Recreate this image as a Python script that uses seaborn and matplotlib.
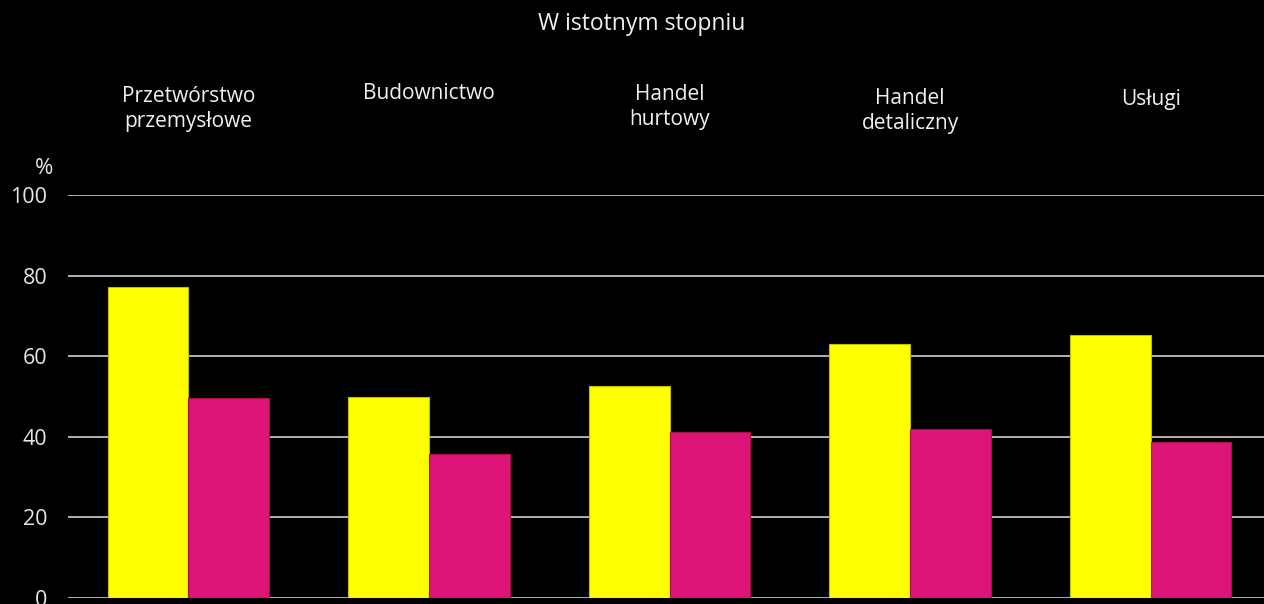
import pandas as pd
import matplotlib.pyplot as plt
import matplotlib.transforms as mtransforms
import seaborn as sns

# dane (%)
sektory = ["Przetwórstwo\nprzemysłowe", "Budownictwo", "Handel\nhurtowy", "Handel\ndetaliczny", "Usługi"]
seria_1 = [77.1, 49.8, 52.6, 63.1, 65.3]
seria_2 = [49.7, 35.7, 41.1, 41.9, 38.6]
serie = ["seria 1", "seria 2"]
tytul = "W istotnym stopniu"
y_ticks = [0, 20, 40, 60, 80, 100]

# wysokości etykiet sektorów (piksele od góry) – w oryginale nie są wyrównane
label_y_px = [109, 93, 107, 111, 100]

df = pd.DataFrame({
    "sektor": sektory * 2,
    "wartosc": seria_1 + seria_2,
    "seria": [serie[0]] * len(sektory) + [serie[1]] * len(sektory),
})

sns.set_theme(style="dark")
plt.rcParams['font.family'] = ['Open Sans', 'DejaVu Sans']

W, H = 1264, 604
fig = plt.figure(figsize=(W / 100, H / 100), dpi=100, facecolor="black")
ax = fig.add_axes([68 / W, (H - 598) / H, 1203 / W, (598 - 195) / H])
ax.set_facecolor("black")

sns.barplot(data=df, x="sektor", y="wartosc", hue="seria",
            palette=["#FFFF00", "#DE1479"], width=0.67, gap=0,
            legend=False, saturation=1, ax=ax)

# delikatne obramowanie słupków jak w oryginale
for p in ax.patches:
    fc = p.get_facecolor()
    p.set_edgecolor((fc[0] * 0.75, fc[1] * 0.75, fc[2] * 0.6, 1))
    p.set_linewidth(0.8)

ax.set_ylim(0, 100)
ax.set_xlim(-0.5, len(sektory) - 0.5)
ax.set_yticks(y_ticks)
ax.set_yticklabels([str(t) for t in y_ticks], color="#e6e6e6", fontsize=15.5)
ax.tick_params(axis="y", length=0, pad=15)
ax.set_xticks([])
ax.set_xlabel("")
ax.set_ylabel("")
ax.grid(axis="y", color="#d0d0d0", linewidth=1.2)
ax.grid(axis="x", visible=False)
ax.set_axisbelow(True)
for s in ax.spines.values():
    s.set_visible(False)

# etykiety sektorów nad grupami słupków
trans = mtransforms.blended_transform_factory(ax.transData, fig.transFigure)
for i, (lab, ypx) in enumerate(zip(sektory, label_y_px)):
    ax.text(i, 1 - ypx / H, lab, transform=trans, ha="center", va="center",
            color="#f0f0f0", fontsize=15, linespacing=1.25, clip_on=False)

fig.text(642 / W, 1 - 24 / H, tytul, ha="center", va="center",
         color="#f0f0f0", fontsize=16.5)
fig.text(44 / W, 1 - 168 / H, "%", ha="center", va="center",
         color="#e6e6e6", fontsize=16)

plt.savefig("out.png", dpi=100, facecolor="black")
plt.close()
